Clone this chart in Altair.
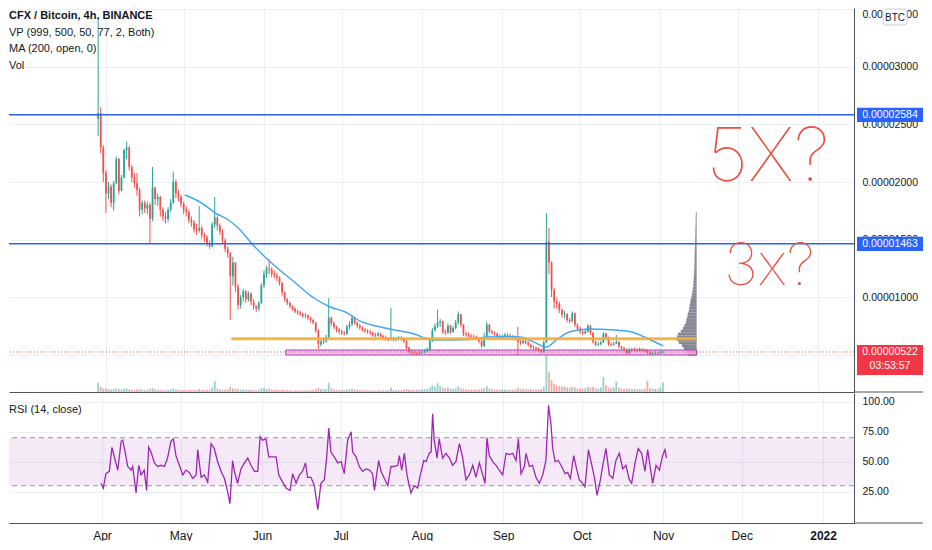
import altair as alt
import pandas as pd

# ---------------- data (prices in satoshi, 1e-8 BTC) ----------------
BASE_DATE = pd.Timestamp("2021-04-01")
first_day = -3          # first daily candle: 29 Mar 2021
first_open = 2550

close = [2600, 2300, 2080, 1900, 1960, 1820, 1990, 2200, 1920, 2040,
         2280, 2300, 2130, 2040, 1990, 1930, 1760, 1820, 1770, 1800,
         1680, 1950, 1850, 1870, 1760, 1700, 1680, 1760, 1820, 2000,
         1900, 1870, 1810, 1760, 1740, 1670, 1650, 1590, 1580, 1600,
         1540, 1520, 1470, 1440, 1630, 1690, 1620, 1570, 1490, 1420,
         1380, 1180, 1300, 1090, 930, 1000, 1050, 980, 1030, 960,
         920, 900, 950, 1100, 1200, 1250, 1240, 1200, 1190, 1170,
         1120, 1040, 980, 950, 920, 900, 875, 865, 850, 835,
         840, 820, 800, 775, 710, 590, 610, 615, 650, 820,
         770, 740, 715, 700, 690, 680, 740, 760, 820, 775,
         750, 735, 715, 705, 695, 690, 670, 665, 680, 660,
         650, 640, 630, 640, 630, 635, 645, 640, 615, 560,
         525, 515, 510, 505, 515, 520, 530, 540, 620, 710,
         745, 780, 790, 700, 690, 750, 695, 730, 780, 850,
         760, 680, 670, 660, 655, 650, 640, 615, 575, 650,
         760, 700, 690, 680, 655, 650, 660, 670, 665, 660,
         645, 640, 610, 600, 620, 605, 585, 565, 560, 550,
         540, 525, 605, 1480, 1300, 1060, 960, 940, 890, 845,
         850, 800, 790, 860, 760, 725, 700, 685, 700, 750,
         690, 610, 585, 590, 605, 680, 650, 590, 585, 595,
         610, 570, 555, 545, 515, 540, 545, 540, 535, 545,
         540, 535, 520, 505, 510, 515, 510, 518, 522]
high = [3400, 2650, 2320, 2100, 2000, 1980, 2010, 2220, 2210, 2060,
        2290, 2350, 2310, 2150, 2080, 2080, 1950, 1840, 1840, 1830,
        1820, 2130, 1960, 1900, 1880, 1780, 1740, 1780, 1850, 2090,
        2020, 1930, 1890, 1830, 1790, 1760, 1700, 1670, 1640, 1790,
        1620, 1560, 1540, 1490, 1650, 1870, 1710, 1640, 1590, 1510,
        1440, 1390, 1350, 1300, 1110, 1020, 1070, 1060, 1050, 1040,
        980, 930, 960, 1120, 1230, 1270, 1330, 1260, 1230, 1210,
        1180, 1130, 1050, 990, 960, 930, 910, 890, 880, 865,
        860, 850, 830, 810, 785, 720, 630, 640, 670, 990,
        830, 790, 750, 730, 715, 705, 760, 790, 845, 830,
        790, 770, 745, 730, 720, 715, 700, 690, 695, 690,
        675, 665, 650, 905, 655, 650, 660, 660, 650, 625,
        570, 540, 530, 525, 530, 535, 545, 560, 640, 730,
        770, 890, 810, 795, 720, 770, 760, 750, 800, 875,
        850, 765, 700, 690, 680, 675, 665, 650, 625, 690,
        785, 765, 715, 700, 690, 675, 675, 690, 685, 680,
        670, 665, 740, 625, 635, 630, 615, 595, 580, 570,
        560, 550, 620, 1730, 1600, 1310, 1080, 990, 960, 900,
        880, 860, 820, 875, 865, 770, 740, 710, 720, 765,
        755, 695, 620, 610, 620, 695, 690, 655, 605, 610,
        670, 615, 575, 565, 550, 555, 560, 560, 555, 560,
        555, 550, 545, 530, 525, 530, 525, 535, 535]
low = [2400, 2250, 2000, 1730, 1850, 1780, 1750, 1980, 1890, 1930,
       2030, 2200, 2100, 2000, 1950, 1880, 1700, 1720, 1730, 1720,
       1470, 1660, 1800, 1790, 1700, 1660, 1640, 1650, 1740, 1810,
       1860, 1830, 1780, 1720, 1700, 1640, 1610, 1560, 1540, 1560,
       1510, 1480, 1440, 1420, 1430, 1600, 1580, 1540, 1460, 1390,
       1340, 800, 1100, 1040, 890, 900, 960, 950, 960, 930,
       890, 870, 880, 940, 1080, 1170, 1200, 1170, 1160, 1140,
       1100, 1010, 960, 930, 900, 880, 860, 845, 835, 820,
       815, 800, 780, 760, 690, 548, 570, 590, 600, 640,
       750, 720, 695, 680, 670, 665, 670, 720, 750, 760,
       730, 715, 700, 690, 680, 670, 655, 650, 655, 645,
       635, 620, 615, 620, 615, 615, 625, 620, 600, 545,
       510, 500, 495, 492, 498, 505, 510, 520, 530, 610,
       700, 730, 740, 680, 670, 680, 680, 690, 720, 760,
       740, 660, 655, 645, 640, 635, 625, 600, 555, 565,
       640, 685, 675, 665, 640, 635, 640, 650, 650, 645,
       630, 625, 496, 585, 590, 590, 570, 550, 540, 535,
       525, 510, 515, 600, 1200, 1000, 900, 900, 860, 820,
       815, 780, 770, 780, 740, 710, 680, 670, 675, 690,
       670, 595, 570, 575, 580, 600, 630, 575, 570, 575,
       590, 555, 540, 530, 500, 505, 525, 525, 520, 525,
       525, 520, 505, 495, 495, 500, 498, 505, 510]
volume = [25, 14, 10, 9, 8, 7, 9, 10, 8, 7,
          9, 10, 7, 6, 6, 7, 8, 6, 5, 6,
          9, 11, 7, 6, 6, 5, 5, 6, 7, 10,
          7, 6, 5, 5, 5, 6, 5, 6, 5, 8,
          6, 5, 6, 6, 12, 30, 9, 7, 6, 6,
          7, 14, 10, 8, 9, 7, 7, 6, 6, 6,
          5, 5, 6, 10, 11, 8, 9, 7, 6, 6,
          5, 6, 5, 5, 5, 4, 4, 5, 4, 4,
          5, 5, 5, 6, 8, 12, 8, 7, 8, 25,
          10, 7, 6, 5, 5, 5, 7, 7, 9, 7,
          6, 5, 5, 5, 4, 5, 4, 4, 5, 5,
          4, 5, 5, 12, 6, 5, 5, 5, 6, 8,
          7, 6, 5, 6, 6, 7, 7, 8, 12, 18,
          14, 24, 16, 12, 10, 12, 9, 9, 10, 15,
          10, 9, 7, 7, 6, 7, 6, 7, 9, 10,
          16, 10, 8, 7, 7, 6, 7, 7, 6, 6,
          6, 7, 12, 8, 8, 7, 7, 8, 7, 7,
          7, 8, 14, 100, 55, 32, 22, 18, 16, 14,
          15, 12, 11, 14, 12, 10, 9, 9, 10, 14,
          12, 14, 10, 9, 12, 40, 18, 12, 10, 12,
          28, 12, 9, 8, 10, 9, 8, 8, 7, 8,
          7, 9, 30, 10, 9, 8, 8, 12, 26]

ma_day = [30.5, 37, 42.3, 47.3, 51.1, 56.8, 61.4, 67.1, 73.2, 79.7, 86.6, 92.3,
          98.8, 102.6, 110, 117.8, 126.6, 134.2, 140, 147.2, 155, 159.8, 165,
          170.1, 174, 178.8, 186.5, 195, 202.9, 208, 215.1]
ma_value = [1887, 1817, 1730, 1670, 1600, 1452, 1348, 1235, 1122, 1000, 913, 870,
            783, 757, 720, 687, 626, 626, 630, 652, 655, 652, 610,
            565, 630, 696, 722, 715, 696, 650, 574]

rsi_day = [-0.4, 0.5, 1.5, 2.8, 3.8, 4.7, 6.0, 7.3, 7.9, 8.9,
           9.8, 11.1, 11.7, 13.0, 14.0, 14.9, 16.1, 17.0, 17.8, 18.7,
           20.0, 21.2, 22.5, 23.8, 25.0, 26.3, 27.2, 28.2, 29.5, 30.8,
           32.0, 33.3, 34.6, 35.9, 36.5, 37.8, 39.0, 40.3, 41.6, 42.8,
           44.1, 45.4, 46.7, 47.9, 48.8, 49.8, 50.5, 51.7, 53.0, 54.3,
           55.6, 56.8, 58.1, 59.4, 60.3, 61.3, 62.5, 63.6, 65.1, 66.4,
           67.4, 68.9, 70.2, 71.7, 72.7, 74.0, 75.3, 76.5, 77.6, 78.4,
           79.7, 81.0, 82.3, 83.5, 84.8, 85.7, 86.5, 87.3, 88.6, 89.9,
           91.2, 92.4, 93.7, 95.0, 95.6, 96.9, 98.1, 99.4, 100.7, 102.0,
           103.2, 103.9, 105.5,
           106.4, 107.7, 109.0, 110.2, 111.5, 112.8, 113.4, 114.3, 115.3, 116.3,
           117.8, 119.1, 120.4, 121.4, 122.7, 123.6, 124.8, 125.5, 126.1, 126.7,
           127.8, 128.6, 129.9, 131.2, 132.5, 133.7, 135.0, 136.3, 137.5, 138.8,
           140.1, 141.4, 142.6, 143.9, 145.2, 146.1, 146.8, 147.7, 149.0, 150.3,
           151.5, 152.8, 154.1, 155.3, 156.6, 157.9, 158.8, 159.8, 161.1, 161.7,
           163.0, 164.2, 165.5, 166.8, 168.1, 169.3, 170.3, 171.2, 171.9, 172.8,
           174.0, 175.3, 176.6, 177.6, 178.6, 179.9, 180.8, 182.0, 183.3, 184.2,
           185.5, 186.5, 187.8, 188.8, 190.1, 191.0, 192.2, 193.5, 194.8, 196.0,
           197.3, 198.6, 199.8, 201.1, 202.0, 203.3, 204.5, 205.8, 207.1, 208.1,
           209.4, 210.0, 211.3, 212.6, 213.8, 214.7, 215.3]
rsi_value = [32, 28, 40, 42, 62, 54, 43, 67, 68, 57,
             46, 43, 46, 24, 47, 39, 43, 26, 62, 58,
             49, 46, 47, 46, 53, 67, 69, 55, 47, 39,
             43, 41, 36, 39, 60, 37, 39, 33, 65, 61,
             50, 42, 36, 25, 15, 51, 42, 32, 44, 49,
             53, 47, 42, 42, 71, 68, 69, 54, 54, 54,
             39, 33, 28, 26, 40, 32, 39, 42, 49, 37,
             37, 30, 10, 32, 35, 54, 78, 58, 54, 49,
             50, 40, 68, 75, 58, 54, 46, 42, 44, 43,
             40, 26, 51,
             42, 36, 30, 46, 46, 47, 55, 43, 57, 39,
             24, 30, 28, 39, 51, 50, 57, 58, 90, 68,
             53, 69, 53, 57, 53, 47, 50, 65, 54, 35,
             39, 47, 37, 49, 39, 32, 70, 55, 50, 47,
             43, 39, 57, 56, 57, 51, 69, 40, 46, 57,
             46, 47, 37, 32, 39, 51, 97, 82, 61, 50,
             51, 46, 40, 41, 36, 55, 46, 35, 32, 29,
             60, 50, 37, 22, 35, 47, 61, 39, 36, 51,
             57, 44, 47, 35, 32, 49, 61, 57, 42, 60,
             41, 32, 47, 43, 55, 60, 53]

# volume profile: price bins (25 sat rows) and relative volume per row
vp_bin = 25
vp_price = list(range(490, 1716, vp_bin))
vp_volume = [9, 11, 13, 15, 18, 20, 20, 19, 16, 14,
             12.5, 11, 10.5, 9.5, 9, 8, 7.5, 7, 6.5, 6,
             5.2, 4.6, 4.2, 3.8, 3.4, 3.2, 3.0, 2.9, 2.7, 2.5,
             2.4, 2.3, 2.2, 2.1, 2.0, 2.0, 1.9, 1.8, 1.7, 1.6,
             1.5, 1.4, 1.3, 1.3, 1.2, 1.1, 1.0, 1.0, 0.9, 0.8]

level_lines = [2584, 1463]
current_price = 522
countdown = "03:53:57"
drawing_end_day = 228
support_level = 637
support_start_day = 48.4
box_low, box_high = 496, 539
box_start_day = 69.4
price_ticks = [500, 1000, 1500, 2000, 2500, 3000, 3500]
rsi_ticks = [25, 50, 75, 100]
rsi_band = (30, 70)
notes = ["5X?", "3x?"]
notes_day = [255.5, 256]
notes_price = [2200, 1250]
notes_size = [74, 58]
legend_lines = ["CFX / Bitcoin, 4h, BINANCE", "VP (999, 500, 50, 77, 2, Both)", "MA (200, open, 0)", "Vol"]


def to_dates(days):
    return [BASE_DATE + pd.Timedelta(days=float(d)) for d in days]


# ---------------- tables ----------------
n = min(len(close), len(high), len(low), len(volume))
opens = [first_open] + close[: n - 1]
candles = pd.DataFrame({
    "date": to_dates(range(first_day, first_day + n)),
    "open": opens, "close": close[:n], "high": high[:n], "low": low[:n], "volume": volume[:n],
})
candles["dir"] = ["up" if c >= o else "down" for o, c in zip(candles["open"], candles["close"])]

m = min(len(ma_day), len(ma_value))
ma = pd.DataFrame({"date": to_dates(ma_day[:m]), "ma": ma_value[:m]})

r = min(len(rsi_day), len(rsi_value))
rsi = pd.DataFrame({"date": to_dates(rsi_day[:r]), "rsi": rsi_value[:r]})

PX_PER_DAY = 2.622
k = min(len(vp_price), len(vp_volume))
end_date = BASE_DATE + pd.Timedelta(days=drawing_end_day)
vp = pd.DataFrame({
    "lo": vp_price[:k],
    "hi": [p + vp_bin for p in vp_price[:k]],
    "x0": [end_date - pd.Timedelta(days=v / PX_PER_DAY) for v in vp_volume[:k]],
    "x1": [end_date] * k,
})

# ---------------- styles ----------------
FONT = "Liberation Sans"
TXT = "#131722"
GRID = "#eceff5"
LINE = "#50535e"
UP, DOWN = "#26a69a", "#ef5350"
BLUE, RED = "#2962ff", "#f23645"

month_ticks = [alt.DateTime(year=2021, month=mm, date=1) for mm in range(4, 13)] + \
              [alt.DateTime(year=2022, month=1, date=1)]
X_SCALE = alt.Scale(domain=[alt.DateTime(year=2021, month=2, date=24, hours=12, minutes=43),
                            alt.DateTime(year=2022, month=1, date=12, hours=19, minutes=12)])
P_SCALE = alt.Scale(domain=[174, 3513], nice=False, zero=False)
R_SCALE = alt.Scale(domain=[-1.1, 107.25], nice=False, zero=False)
V_SCALE = alt.Scale(domain=[0, 1038], nice=False, zero=True)
C_SCALE = alt.Scale(domain=["up", "down"], range=[UP, DOWN])

X_AX_TOP = alt.Axis(values=month_ticks, labels=False, ticks=False, grid=True, gridColor=GRID,
                    domain=True, domainColor=LINE, title=None)
X_AX_BOT = alt.Axis(values=month_ticks,
                    labelExpr="month(datum.value) == 0 ? timeFormat(datum.value, '%Y') : timeFormat(datum.value, '%b')",
                    labelFontWeight={"condition": {"test": "month(datum.value) == 0", "value": "bold"},
                                     "value": "normal"},
                    labelFont=FONT, labelFontSize=12, labelColor=TXT, labelPadding=7, labelFlush=False,
                    ticks=False, grid=True, gridColor=GRID, domain=True, domainColor=LINE, title=None)
# the 0.00000500 label sits fully under the last-price tag, as in TradingView
P_AX = alt.Axis(orient="right", values=price_ticks,
                labelExpr="datum.value == 500 ? '' : format(datum.value / 100000000, '.8f')",
                labelFont=FONT, labelFontSize=10.5, labelColor=TXT, labelPadding=8, labelFlush=3,
                ticks=False, grid=True, gridColor=GRID, domain=True, domainColor=LINE, title=None)
R_AX = alt.Axis(orient="right", values=rsi_ticks, format=".2f",
                labelFont=FONT, labelFontSize=10.5, labelColor=TXT, labelPadding=8,
                ticks=False, grid=True, gridColor=GRID, domain=True, domainColor=LINE, title=None)


def X(field, axis=X_AX_TOP):
    return alt.X(f"{field}:T", scale=X_SCALE, axis=axis)


def PY(field):
    return alt.Y(f"{field}:Q", scale=P_SCALE, axis=P_AX)


def RY(field):
    return alt.Y(f"{field}:Q", scale=R_SCALE, axis=R_AX)


one = pd.DataFrame({"a": [0]})
COLOR = alt.Color("dir:N", scale=C_SCALE, legend=None)

# ---------------- price panel ----------------
vol_chart = alt.Chart(candles).mark_bar(size=1.8, opacity=0.5).encode(
    x=X("date"), y=alt.Y("volume:Q", scale=V_SCALE, axis=None), color=COLOR)

vp_chart = alt.Chart(vp).mark_rect(color="#80838f", opacity=0.95).encode(
    x=X("x0"), x2="x1:T", y=PY("lo"), y2="hi:Q")

box_df = pd.DataFrame({"x0": to_dates([box_start_day]), "x1": [end_date], "lo": [box_low], "hi": [box_high]})
box_chart = alt.Chart(box_df).mark_rect(fill="#f3b3ef", fillOpacity=0.8, stroke="#b23fb0", strokeWidth=1).encode(
    x=X("x0"), x2="x1:T", y=PY("lo"), y2="hi:Q")

wick = alt.Chart(candles).mark_rule(strokeWidth=1).encode(
    x=X("date"), y=PY("low"), y2="high:Q", color=COLOR)
body = alt.Chart(candles).mark_bar(size=1.8).encode(
    x=X("date"), y=PY("open"), y2="close:Q", color=COLOR)

ma_chart = alt.Chart(ma).mark_line(color="#42a5f5", strokeWidth=1.4, interpolate="monotone").encode(
    x=X("date"), y=PY("ma"))

sup_df = pd.DataFrame({"x0": to_dates([support_start_day]), "x1": [end_date], "p": [support_level]})
sup_chart = alt.Chart(sup_df).mark_rule(color="#f5ad33", strokeWidth=3, opacity=0.9).encode(
    x=X("x0"), x2="x1:T", y=PY("p"))

lvl_df = pd.DataFrame({"p": level_lines})
lvl_chart = alt.Chart(lvl_df).mark_rule(color=BLUE, strokeWidth=1.5).encode(y=PY("p"))

cur_df = pd.DataFrame({"p": [current_price]})
cur_chart = alt.Chart(cur_df).mark_rule(color="#ef5350", strokeWidth=1, strokeDash=[1, 2]).encode(y=PY("p"))

notes_df = pd.DataFrame({"date": to_dates(notes_day), "p": notes_price, "t": notes, "s": notes_size})
notes_chart = alt.Chart(notes_df).mark_text(font="Inter", fontWeight=100, color="#e8503f",
                                            align="center", baseline="middle").encode(
    x=X("date"), y=PY("p"), text="t:N", size=alt.Size("s:Q", scale=None, legend=None))

legend_layers = []
for i, line in enumerate(legend_lines):
    legend_layers.append(
        alt.Chart(one).mark_text(align="left", baseline="middle", font=FONT, fontSize=11, color=TXT,
                                 fontWeight="bold" if i == 0 else "normal", text=line).encode(
            x=alt.value(0), y=alt.value(8 + i * 16.7)))

# right-axis price tags
line_tags = pd.DataFrame({"p": level_lines})
line_tags["top"] = [p + 62 for p in level_lines]
line_tags["bot"] = [p - 62 for p in level_lines]
line_tags["label"] = [f"{p / 1e8:.8f}" for p in level_lines]
last_tag = pd.DataFrame({"p": [current_price], "top": [current_price + 61], "bot": [current_price - 200],
                         "label": [f"{current_price / 1e8:.8f}"]})

line_box = alt.Chart(line_tags).mark_rect(color=BLUE).encode(
    x=alt.value(848), x2=alt.value(914), y=PY("top"), y2="bot:Q")
last_box = alt.Chart(last_tag).mark_rect(color=RED).encode(
    x=alt.value(848), x2=alt.value(914), y=PY("top"), y2="bot:Q")
line_txt = alt.Chart(line_tags).mark_text(color="white", font=FONT, fontSize=10.5, align="center",
                                          baseline="middle").encode(
    x=alt.value(881), y=PY("p"), text="label:N")
last_txt = alt.Chart(last_tag).mark_text(color="white", font=FONT, fontSize=10.5, align="center",
                                         baseline="middle").encode(
    x=alt.value(881), y=PY("p"), text="label:N")
cd_txt = alt.Chart(last_tag).mark_text(color="white", font=FONT, fontSize=10.5, align="center",
                                       baseline="middle", dy=14, text=countdown).encode(
    x=alt.value(881), y=PY("p"))

btc_box = alt.Chart(one).mark_rect(fill="white", stroke="#c9ccd4", strokeWidth=1, cornerRadius=3).encode(
    x=alt.value(874), x2=alt.value(898), y=alt.value(1), y2=alt.value(17))
btc_txt = alt.Chart(one).mark_text(font=FONT, fontSize=10, color=TXT, align="center", baseline="middle",
                                   text="BTC").encode(x=alt.value(886), y=alt.value(9.5))

sep_top = alt.Chart(one).mark_rule(color=LINE, strokeWidth=1).encode(
    x=alt.value(845), x2=alt.value(914), y=alt.value(384))

price_stack = alt.layer(vp_chart, box_chart, wick, body, ma_chart, sup_chart, lvl_chart, cur_chart,
                        notes_chart, *legend_layers, line_box, last_box, line_txt, last_txt, cd_txt,
                        btc_box, btc_txt, sep_top)
price_panel = alt.layer(vol_chart, price_stack).resolve_scale(y="independent").properties(
    width=845, height=384)

# ---------------- RSI panel ----------------
band_df = pd.DataFrame({"lo": [rsi_band[0]], "hi": [rsi_band[1]]})
band = alt.Chart(band_df).mark_rect(color="#9c27b0", opacity=0.1).encode(y=RY("lo"), y2="hi:Q")
band_lines = alt.Chart(pd.DataFrame({"v": list(rsi_band)})).mark_rule(
    color="#9598a1", strokeWidth=1, strokeDash=[5, 4]).encode(y=RY("v"))
rsi_line = alt.Chart(rsi).mark_line(color="#9c27b0", strokeWidth=1.3).encode(
    x=X("date", X_AX_BOT), y=RY("rsi"))
rsi_title = alt.Chart(one).mark_text(align="left", baseline="middle", font=FONT, fontSize=11, color=TXT,
                                     text="RSI (14, close)").encode(x=alt.value(0), y=alt.value(17))
sep_bot = alt.Chart(one).mark_rule(color=LINE, strokeWidth=1).encode(
    x=alt.value(845), x2=alt.value(914), y=alt.value(130))

rsi_panel = alt.layer(band, band_lines, rsi_line, rsi_title, sep_bot).properties(width=845, height=130)

chart = alt.vconcat(price_panel, rsi_panel, spacing=0).properties(
    padding=0, background="white").configure_view(stroke=None)

chart.save("out.html", embed_options={"renderer": "svg", "actions": False})
